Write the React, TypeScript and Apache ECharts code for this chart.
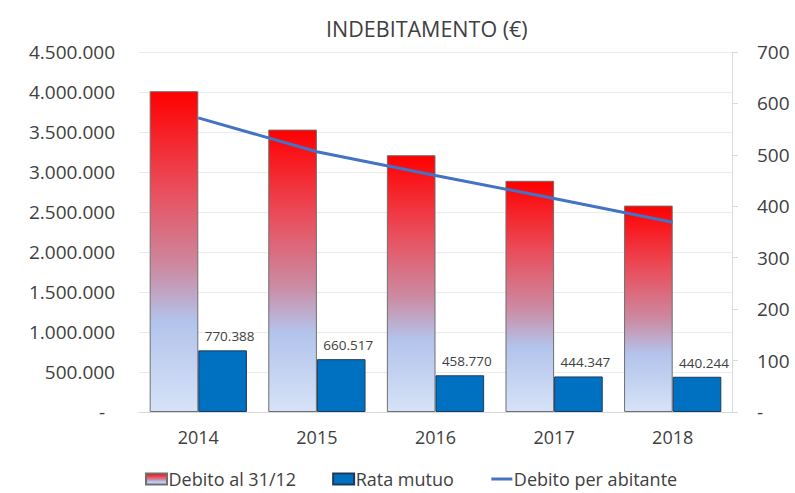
import React, { useEffect, useRef } from "react";
import * as echarts from "echarts";

const categories = ["2014", "2015", "2016", "2017", "2018"];
const debitoTotale = [4010000, 3530000, 3210000, 2890000, 2580000];
const rataMutuo = [770388, 660517, 458770, 444347, 440244];
const debitoPerAbitante = [572, 506, 460, 415, 369];

const fmt = (v: number) => {
  if (v === 0) return "-";
  return String(Math.round(v)).replace(/\B(?=(\d{3})+(?!\d))/g, ".");
};

export default function App() {
  const ref = useRef<HTMLDivElement>(null);
  useEffect(() => {
    document.body.style.margin = "0";
    const chart = echarts.init(ref.current!, null, { renderer: "svg" });
    const font = "'Open Sans', sans-serif";
    const redGrad = new echarts.graphic.LinearGradient(0, 0, 0, 1, [
      { offset: 0, color: "#ff0000" },
      { offset: 0.3, color: "#ea4c5a" },
      { offset: 0.55, color: "#cc8aa2" },
      { offset: 0.72, color: "#b3c4ec" },
      { offset: 1, color: "#d6e2f7" },
    ]);
    chart.setOption({
      animation: false,
      textStyle: { fontFamily: font },
      title: {
        text: "INDEBITAMENTO (€)",
        left: 321,
        top: 12,
        textStyle: { fontFamily: font, fontSize: 21.5, fontWeight: "normal", color: "#404040" },
      },
      legend: {
        top: 465,
        left: 140,
        itemWidth: 21,
        itemHeight: 11,
        itemGap: 36,
        textStyle: { fontFamily: font, fontSize: 18, color: "#404040", padding: [0, 0, 0, -3.5] },
        data: [
          { name: "Debito al 31/12", icon: "rect" },
          { name: "Rata mutuo", icon: "rect" },
          {
            name: "Debito per abitante",
            itemStyle: { opacity: 0 },
            lineStyle: { width: 3, color: "#4472c4" },
          },
        ],
      },
      grid: { left: 139, right: 63, top: 52, bottom: 81 },
      xAxis: {
        type: "category",
        data: categories,
        axisLine: { lineStyle: { color: "#d9d9d9" } },
        axisTick: { show: false },
        axisLabel: { fontFamily: font, fontSize: 18, color: "#404040", margin: 16 },
      },
      yAxis: [
        {
          type: "value",
          min: 0,
          max: 4500000,
          interval: 500000,
          axisLine: { show: false },
          axisTick: { show: false },
          splitLine: { lineStyle: { color: "#ebebeb" } },
          axisLabel: {
            fontFamily: font,
            fontSize: 19,
            color: "#404040",
            margin: 24,
            formatter: (v: number) => (v === 0 ? "{z|-}" : fmt(v)),
            rich: { z: { fontFamily: font, fontSize: 19, color: "#404040", padding: [0, 10, 0, 0] } },
          },
        },
        {
          type: "value",
          min: 0,
          max: 700,
          interval: 100,
          position: "right",
          axisLine: { show: true, lineStyle: { color: "#d9d9d9" } },
          axisTick: { show: true, length: 6, lineStyle: { color: "#d9d9d9" } },
          splitLine: { show: false },
          axisLabel: {
            fontFamily: font,
            fontSize: 19,
            color: "#404040",
            margin: 25,
            formatter: (v: number) => fmt(v),
          },
        },
      ],
      series: [
        {
          name: "Debito al 31/12",
          type: "bar",
          data: debitoTotale,
          barGap: "0%",
          barCategoryGap: "18%",
          itemStyle: { color: redGrad, borderColor: "#6f6f6f", borderWidth: 1 },
        },
        {
          name: "Rata mutuo",
          type: "bar",
          data: rataMutuo,
          itemStyle: { color: "#0070c0", borderColor: "#1f3a5f", borderWidth: 1 },
          label: {
            show: true,
            position: "top",
            offset: [7, -2],
            fontFamily: font,
            fontSize: 13.5,
            color: "#404040",
            formatter: (p: any) => fmt(p.value),
          },
        },
        {
          name: "Debito per abitante",
          type: "line",
          yAxisIndex: 1,
          data: debitoPerAbitante,
          symbol: "none",
          lineStyle: { color: "#4472c4", width: 3 },
          itemStyle: { color: "#4472c4" },
        },
      ],
    });
    return () => chart.dispose();
  }, []);
  return <div ref={ref} style={{ width: 795, height: 493 }} />;
}
